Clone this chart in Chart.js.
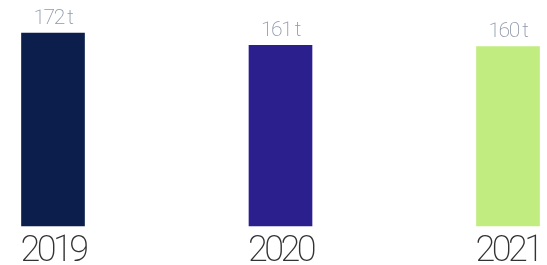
<!DOCTYPE html>
<html>
<head>
<meta charset="utf-8">
<script src="https://cdn.jsdelivr.net/npm/chart.js@4"></script>
<style>
  html, body { margin: 0; padding: 0; background: #ffffff; }
  #wrap { width: 547px; height: 265px; }
</style>
</head>
<body>
<div id="wrap"><canvas id="tonnageChart"></canvas></div>
<script>
const years = ['2019', '2020', '2021'];
const tonnes = [172, 161, 160];
const barColors = ['#0c1f4c', '#2b1f8e', '#c0ec80'];
const unit = ' t';

// value labels sitting on top of each bar
const valueLabels = {
  id: 'valueLabels',
  afterDatasetsDraw(chart) {
    const ctx = chart.ctx;
    const meta = chart.getDatasetMeta(0);
    ctx.save();
    ctx.font = '200 21px Roboto';
    ctx.letterSpacing = '-1.5px';
    ctx.fillStyle = '#8f98a9';
    ctx.textAlign = 'center';
    ctx.textBaseline = 'alphabetic';
    meta.data.forEach((bar, i) => {
      ctx.fillText(tonnes[i] + unit, bar.x, bar.y - 9);
    });
    ctx.restore();
  }
};

// tighter letters for the year labels
const tightText = {
  id: 'tightText',
  beforeDraw(chart) {
    chart.ctx.letterSpacing = '-3.5px';
  }
};

const ctx = document.getElementById('tonnageChart').getContext('2d');

new Chart(ctx, {
  type: 'bar',
  data: {
    labels: years,
    datasets: [{
      data: tonnes,
      backgroundColor: barColors,
      barThickness: 63,
      borderWidth: 0,
      clip: false
    }]
  },
  options: {
    responsive: true,
    maintainAspectRatio: false,
    animation: false,
    layout: {
      padding: { left: 53, right: 39, top: 33, bottom: -5 }
    },
    scales: {
      x: {
        offset: false,
        grid: { display: false },
        border: { display: false },
        // let the layout padding alone decide where the end bars sit
        afterFit(axis) {
          axis.paddingLeft = 0;
          axis.paddingRight = 0;
        },
        ticks: {
          color: '#333333',
          padding: 0,
          maxRotation: 0,
          font: { family: 'Roboto', weight: 200, size: 36, lineHeight: 1 }
        }
      },
      y: {
        display: false,
        min: 0,
        max: 172
      }
    },
    plugins: {
      legend: { display: false },
      tooltip: { enabled: false }
    }
  },
  plugins: [valueLabels, tightText]
});
</script>
</body>
</html>
